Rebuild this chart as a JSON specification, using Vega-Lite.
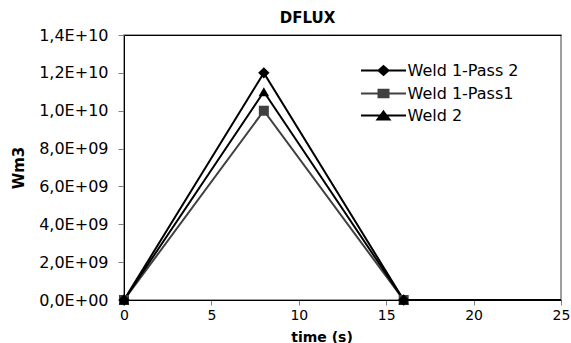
{
  "$schema": "https://vega.github.io/schema/vega-lite/v6.json",
  "width": 437,
  "height": 265,
  "autosize": "none",
  "padding": {"left": 124, "top": 35, "right": 10, "bottom": 43},
  "background": "#ffffff",
  "title": {"text": "DFLUX", "font": "DejaVu Sans", "fontSize": 15, "fontWeight": "bold", "color": "#000", "anchor": "middle", "frame": "group", "baseline": "alphabetic", "offset": 0, "dy": 11, "dx": -35},
  "data": {"values": [
    {"series": "Weld 1-Pass1", "t": 0, "v": 0},
    {"series": "Weld 1-Pass1", "t": 8, "v": 10000000000},
    {"series": "Weld 1-Pass1", "t": 16, "v": 0},
    {"series": "Weld 1-Pass1", "t": 25, "v": 0},
    {"series": "Weld 2", "t": 0, "v": 0},
    {"series": "Weld 2", "t": 8, "v": 11000000000},
    {"series": "Weld 2", "t": 16, "v": 0},
    {"series": "Weld 2", "t": 25, "v": 0},
    {"series": "Weld 1-Pass 2", "t": 0, "v": 0},
    {"series": "Weld 1-Pass 2", "t": 8, "v": 12000000000},
    {"series": "Weld 1-Pass 2", "t": 16, "v": 0},
    {"series": "Weld 1-Pass 2", "t": 25, "v": 0}
  ]},
  "resolve": {"axis": {"x": "independent"}},
  "encoding": {
    "y": {"field": "v", "type": "quantitative", "scale": {"domain": [0, 14000000000], "nice": false},
      "axis": {"values": [0, 2000000000, 4000000000, 6000000000, 8000000000, 10000000000, 12000000000, 14000000000], "title": "Wm3", "tickSize": 6, "labelPadding": 10, "labelBaseline": "middle", "labelOverlap": false, "labelBound": false, "labelFont": "DejaVu Sans", "labelFontSize": 16, "labelExpr": "datum.value === 0 ? '0,0E+00' : replace(format(datum.value / pow(10, floor(log(datum.value)/LN10 + 0.000001)), '.1f'), '.', ',') + 'E+' + (floor(log(datum.value)/LN10 + 0.000001) < 10 ? '0' : '') + floor(log(datum.value)/LN10 + 0.000001)", "titleX": -105.5, "titleY": 132.5, "titleAngle": -90, "titleAlign": "center", "titleBaseline": "middle", "titleAnchor": null}}
  },
  "layer": [
    {
      "mark": {"type": "line", "strokeWidth": 2, "clip": true},
      "encoding": {
        "x": {"field": "t", "type": "quantitative", "scale": {"domain": [0, 25], "nice": false},
          "axis": {"values": [0, 5, 10, 15, 20, 25], "title": null, "tickSize": 5, "labelFontSize": 14, "labelBaseline": "alphabetic", "labelPadding": 14, "labelOverlap": false, "labelFlush": false, "labelBound": false}},
        "color": {"field": "series", "type": "nominal",
          "scale": {"domain": ["Weld 1-Pass 2", "Weld 1-Pass1", "Weld 2"], "range": ["#000000", "#404040", "#000000"]},
          "legend": {"orient": "none", "legendX": 251.5, "legendY": 27.5, "title": null, "symbolSize": 100, "symbolStrokeWidth": 2, "labelFont": "DejaVu Sans", "labelFontSize": 16, "labelColor": "#000", "labelOffset": 16, "rowPadding": 6,
            "encode": {"symbols": {"update": {
              "shape": {"signal": "datum.value === 'Weld 1-Pass 2' ? 'M-4.5,0H4.5M-1,0L0,-0.9L1,0L0,0.9Z' : datum.value === 'Weld 1-Pass1' ? 'M-4.5,0H4.5M-1,-0.75H1V0.75H-1Z' : 'M-4.5,0H4.5M0,-0.8L1.2,0.8H-1.2Z'"},
              "fill": {"signal": "datum.value === 'Weld 1-Pass1' ? '#404040' : '#000000'"},
              "stroke": {"signal": "datum.value === 'Weld 1-Pass1' ? '#404040' : '#000000'"},
              "strokeWidth": {"value": 2},
              "opacity": {"value": 1}
            }}}}},
        "order": {"field": "t"},
        "detail": {"field": "series"}
      }
    },
    {
      "transform": [{"filter": "datum.series === 'Weld 1-Pass1' && datum.t < 20"}],
      "mark": {"type": "point", "shape": "square", "filled": true, "opacity": 1, "size": 100, "color": "#404040"},
      "encoding": {
        "x": {"field": "t", "type": "quantitative", "scale": {"domain": [0, 25], "nice": false},
          "axis": {"orient": "top", "labels": false, "ticks": false, "domainColor": "#000", "title": "time (s)", "titleFontSize": 14, "titleX": 197.5, "titleY": 306, "titleBaseline": "alphabetic", "titleAlign": "center", "titleAnchor": null, "titleAngle": 0}}
      }
    },
    {
      "transform": [{"filter": "datum.series === 'Weld 1-Pass 2' && datum.t < 20"}],
      "mark": {"type": "point", "shape": "diamond", "filled": true, "opacity": 1, "size": 130, "color": "#000000"},
      "encoding": {
        "x": {"field": "t", "type": "quantitative", "axis": null}
      }
    },
    {
      "transform": [{"filter": "datum.series === 'Weld 2' && datum.t < 20"}],
      "mark": {"type": "point", "shape": "triangle-up", "filled": true, "opacity": 1, "size": 110, "color": "#000000"},
      "encoding": {
        "x": {"field": "t", "type": "quantitative", "axis": null}
      }
    }
  ],
  "config": {
    "view": {"stroke": "#808080", "strokeWidth": 1.5},
    "axis": {"grid": false, "labelOverlap": false, "labelFont": "DejaVu Sans", "labelFontSize": 15, "labelColor": "#000", "titleFont": "DejaVu Sans", "titleFontSize": 15, "titleFontWeight": "bold", "titleColor": "#000", "domainColor": "#000", "tickColor": "#808080"}
  }
}
